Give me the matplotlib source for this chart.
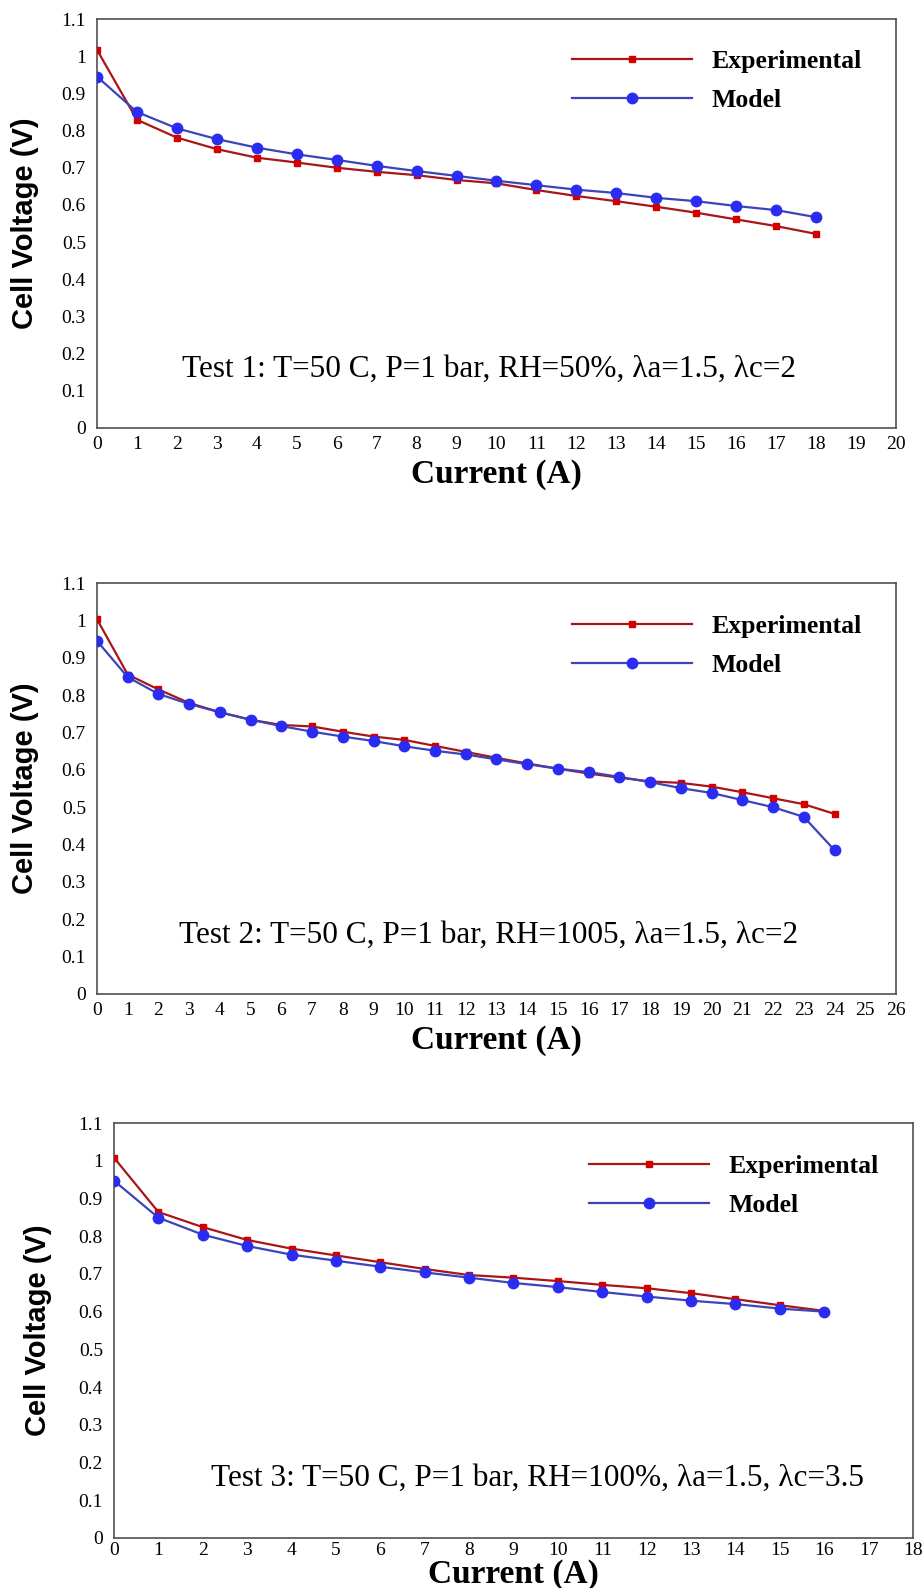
import matplotlib
matplotlib.use("Agg")
import matplotlib.pyplot as plt

# Current (A) for each test
current_1 = list(range(0, 19))
current_2 = list(range(0, 25))
current_3 = list(range(0, 17))

# Cell voltage (V)
exp_1 = [1.017, 0.829, 0.781, 0.750, 0.727, 0.714, 0.700, 0.689, 0.680, 0.667,
         0.658, 0.640, 0.624, 0.610, 0.595, 0.579, 0.561, 0.543, 0.522]
model_1 = [0.945, 0.850, 0.806, 0.777, 0.754, 0.736, 0.721, 0.705, 0.691, 0.678,
           0.665, 0.653, 0.641, 0.632, 0.619, 0.610, 0.597, 0.586, 0.567]

exp_2 = [1.003, 0.855, 0.815, 0.779, 0.754, 0.734, 0.720, 0.716, 0.702, 0.689,
         0.680, 0.664, 0.648, 0.632, 0.617, 0.603, 0.590, 0.579, 0.569, 0.565,
         0.555, 0.540, 0.524, 0.508, 0.482]
model_2 = [0.945, 0.848, 0.803, 0.776, 0.754, 0.734, 0.717, 0.702, 0.689, 0.677,
           0.663, 0.651, 0.641, 0.628, 0.615, 0.603, 0.594, 0.581, 0.567, 0.551,
           0.538, 0.519, 0.500, 0.474, 0.385]

exp_3 = [1.008, 0.864, 0.824, 0.790, 0.767, 0.749, 0.731, 0.713, 0.697, 0.690,
         0.681, 0.671, 0.662, 0.649, 0.633, 0.617, 0.602]
model_3 = [0.947, 0.849, 0.804, 0.774, 0.751, 0.735, 0.719, 0.704, 0.690, 0.676,
           0.665, 0.652, 0.640, 0.629, 0.620, 0.608, 0.600]

x_max = [20, 26, 18]
test_labels = [
    "Test 1: T=50 C, P=1 bar, RH=50%, \u03bba=1.5, \u03bbc=2",
    "Test 2: T=50 C, P=1 bar, RH=1005, \u03bba=1.5, \u03bbc=2",
    "Test 3: T=50 C, P=1 bar, RH=100%, \u03bba=1.5, \u03bbc=3.5",
]
y_ticks = [0, 0.1, 0.2, 0.3, 0.4, 0.5, 0.6, 0.7, 0.8, 0.9, 1.0, 1.1]
y_tick_labels = ["0", "0.1", "0.2", "0.3", "0.4", "0.5", "0.6", "0.7", "0.8", "0.9", "1", "1.1"]

SERIF = "Liberation Serif"
SANS = "Liberation Sans"
RED_LINE = "#a8161a"
RED_MARK = "#d40000"
BLUE_LINE = "#3d44b8"
BLUE_MARK = "#2a2cf2"
SPINE = "#505050"

W, H = 924, 1588
# axes boxes in pixels: left, top, right, bottom
boxes = [(97, 19, 896, 428), (97, 583, 896, 994), (114, 1123, 913, 1538)]
ylabel_x = [-0.073, -0.073, -0.078]
xtick_pad = [6, 6, 3]
xlabel_pad = [4, 4, 0]
note_x = [0.49, 0.49, 0.53]

fig = plt.figure(figsize=(W / 100, H / 100), dpi=100)

datasets = [(current_1, exp_1, model_1), (current_2, exp_2, model_2), (current_3, exp_3, model_3)]

for i, (cur, exp, mod) in enumerate(datasets):
    l, t, r, b = boxes[i]
    ax = fig.add_axes([l / W, 1 - b / H, (r - l) / W, (b - t) / H])
    ax.plot(cur, exp, "-s", color=RED_LINE, lw=1.6, ms=5, mfc=RED_MARK, mec=RED_MARK,
            label="Experimental", zorder=3)
    ax.plot(cur, mod, "-o", color=BLUE_LINE, lw=1.6, ms=7.5, mfc=BLUE_MARK, mec=BLUE_MARK,
            label="Model", zorder=4)
    ax.set_xlim(0, x_max[i])
    ax.set_ylim(0, 1.1)
    ax.set_xticks(range(0, x_max[i] + 1))
    ax.set_yticks(y_ticks)
    ax.set_yticklabels(y_tick_labels)
    for lab in ax.get_xticklabels() + ax.get_yticklabels():
        lab.set_fontfamily(SERIF)
        lab.set_fontsize(14)
    ax.tick_params(axis="x", length=0, pad=xtick_pad[i])
    ax.tick_params(axis="y", length=0, pad=8)
    for sp in ax.spines.values():
        sp.set_color(SPINE)
        sp.set_linewidth(1.2)

    ax.set_xlabel("Current (A)", fontfamily=SERIF, fontweight="bold", fontsize=24,
                  labelpad=xlabel_pad[i])
    ax.set_ylabel("Cell Voltage (V)", fontfamily=SANS, fontweight="bold", fontsize=21)
    ax.yaxis.set_label_coords(ylabel_x[i], 0.5)

    ax.text(x_max[i] * note_x[i], 0.158, test_labels[i], fontfamily=SERIF, fontsize=22.5,
            ha="center", va="center")

    ax.legend(loc="upper left", bbox_to_anchor=(0.594, 0.923), frameon=False,
              prop={"family": SERIF, "weight": "bold", "size": 18.5},
              handlelength=4.7, handletextpad=0.75, labelspacing=0.62,
              borderpad=0, borderaxespad=0)

fig.savefig("out.png", dpi=100)
